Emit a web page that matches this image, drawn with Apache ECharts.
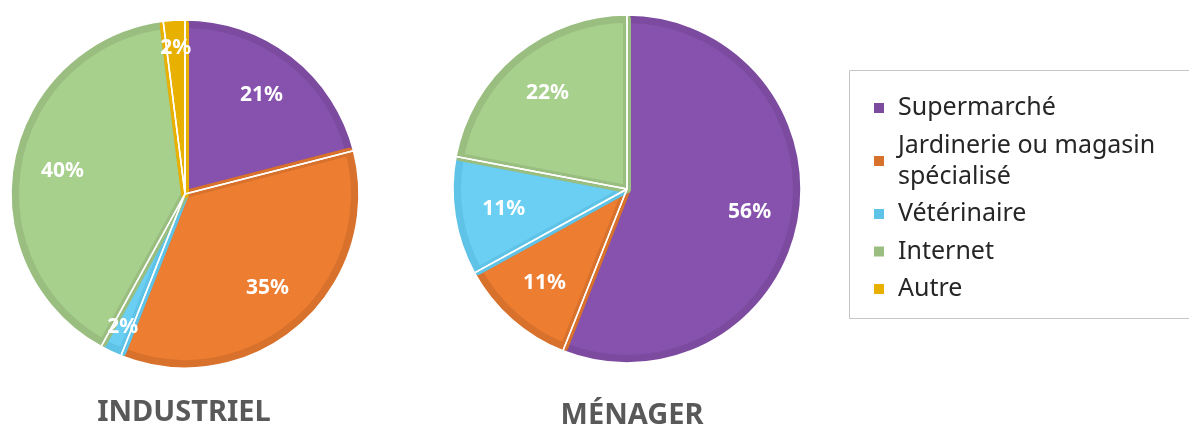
<!DOCTYPE html>
<html>
<head>
<meta charset="utf-8">
<script src="https://cdn.jsdelivr.net/npm/echarts@6/dist/echarts.min.js"></script>
<style>
  html, body { margin: 0; background: #fff; }
  #chart { width: 1189px; height: 428px; }
</style>
</head>
<body>
<div id="chart"></div>
<script>
// data
const categories = ['Supermarché', 'Jardinerie ou magasin spécialisé', 'Vétérinaire', 'Internet', 'Autre'];
const industriel = [21, 35, 2, 40, 2];
const menager = [56, 11, 11, 22, 0];
const pieTitles = ['INDUSTRIEL', 'MÉNAGER'];

const fills = ['#8652AD', '#EC7D31', '#6ACFF3', '#A8D08D', '#E8B000'];
const borders = ['#7C4BA0', '#D8712B', '#5EC3E7', '#9ABE80', '#E8B000'];
const font = '"Noto Sans", sans-serif';

const chart = echarts.init(document.getElementById('chart'));

function slices(values) {
  return categories
    .map((name, i) => ({ name, value: values[i], itemStyle: { color: fills[i], borderColor: borders[i] } }))
    .filter(d => d.value > 0);
}

function pieSeries(values, center, r) {
  const data = slices(values);
  const plain = data.map(d => ({ name: d.name, value: d.value }));
  const common = {
    type: 'pie', center, startAngle: 90, clockwise: true, silent: true,
    animation: false, labelLine: { show: false }, emphasis: { disabled: true }
  };
  const lbl = (small) => ({
    show: true, position: 'inside', color: '#fff', fontSize: 21, fontWeight: 'bold', fontFamily: font,
    formatter: p => ((p.value < 5) === small ? p.value + '%' : '')
  });
  return [
    { ...common, radius: r - 4, data, itemStyle: { borderWidth: 8 }, label: { show: false } },
    { ...common, radius: r, data: plain, label: { show: false },
      itemStyle: { color: 'rgba(0,0,0,0)', borderColor: '#fff', borderWidth: 1.5 } },
    { ...common, radius: [r * 0.4, r], data: plain, label: lbl(false),
      itemStyle: { color: 'rgba(0,0,0,0)', borderWidth: 0 } },
    { ...common, radius: [r * 0.65, r], data: plain, label: lbl(true),
      itemStyle: { color: 'rgba(0,0,0,0)', borderWidth: 0 } }
  ];
}

chart.setOption({
  backgroundColor: '#fff',
  animation: false,
  legend: {
    orient: 'vertical', left: 869, top: 87.5,
    icon: 'rect', itemWidth: 10, itemHeight: 10, itemGap: 6.5,
    selectedMode: false,
    textStyle: { fontSize: 25, lineHeight: 31, color: '#262626', fontFamily: font, padding: [0, 0, 0, 9] },
    formatter: name => name.replace(' spécialisé', '\nspécialisé'),
    data: categories.map((name, i) => ({ name, itemStyle: { color: borders[i], borderWidth: 0 } }))
  },
  graphic: [
    { type: 'rect', silent: true, shape: { x: 849.5, y: 70.5, width: 360, height: 248 },
      style: { fill: 'none', stroke: '#c6c6c6', lineWidth: 1 } },
    { type: 'text', x: 184, y: 413, silent: true,
      style: { text: pieTitles[0], align: 'center', verticalAlign: 'middle', fill: '#595959',
               font: 'bold 29px ' + font } },
    { type: 'text', x: 632, y: 416, silent: true,
      style: { text: pieTitles[1], align: 'center', verticalAlign: 'middle', fill: '#595959',
               font: 'bold 29px ' + font } }
  ],
  series: [
    ...pieSeries(industriel, [185, 194], 174),
    ...pieSeries(menager, [627, 189], 174)
  ]
});
</script>
</body>
</html>
